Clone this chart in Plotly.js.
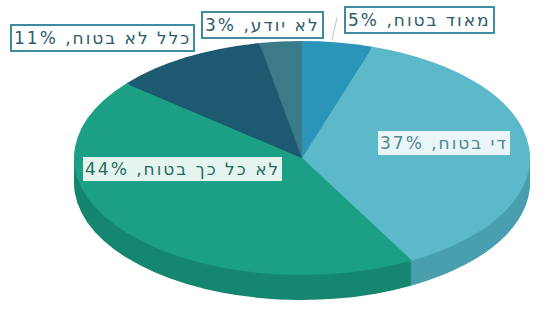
<!DOCTYPE html>
<html><head><meta charset="utf-8">
<script src="https://cdn.plot.ly/plotly-3.0.1.min.js"></script>
<style>html,body{margin:0;padding:0;background:#fff;} #chart{width:548px;height:312px;}
.annotation-text{letter-spacing:2px;}</style>
</head><body><div id="chart"></div>
<script>
const categories = ["מאוד בטוח", "די בטוח", "לא כל כך בטוח", "כלל לא בטוח", "לא יודע"];
const values = [5, 37, 44, 11, 3];
const topColors = ["#2b95b9", "#5bb9c9", "#1ba085", "#1d5a72", "#3b7b89"];
const sideColors = ["#237c99", "#4a9fae", "#15866f", "#184b5f", "#316672"];

// geometry (pixels)
const W = 548, H = 312, CX = 302, CY = 158, RX = 228, RY = 117, DEPTH = 25, STEP = 2;
function domainFor(cy) {
  return {x: [(CX - RY) / W, (CX + RY) / W], y: [1 - (cy + RY) / H, 1 - (cy - RY) / H]};
}
function pieTrace(colors, cy) {
  return {
    type: 'pie', labels: categories, values: values, sort: false,
    direction: 'clockwise', rotation: 0, textinfo: 'none', hoverinfo: 'skip',
    marker: {colors: colors, line: {width: 0}}, domain: domainFor(cy), showlegend: false
  };
}
const traces = [];
for (let d = DEPTH; d >= STEP; d -= STEP) traces.push(pieTrace(sideColors, CY + d));
traces.push(pieTrace(topColors, CY));

// label placement (pixel centres) and style
const labelPos = [[419, 20], [444, 143], [182, 169], [102, 38], [262, 25]];
const labelBoxed = [true, false, false, true, true];
const labelColor = ["#2b5c6b", "#4d8896", "#1e6e5e", "#2b5c6b", "#2b5c6b"];
const labelBg = ["#ffffff", "#eaf5f7", "#e6f4f0", "#ffffff", "#ffffff"];

const annotations = categories.map((c, i) => ({
  xref: 'paper', yref: 'paper', x: labelPos[i][0] / W, y: 1 - labelPos[i][1] / H,
  xanchor: 'center', yanchor: 'middle', showarrow: false,
  text: '\u200F' + c + ', ' + values[i] + '%\u200F',
  font: {family: 'DejaVu Sans, Verdana, sans-serif', size: 17, color: labelColor[i]},
  bgcolor: labelBg[i],
  bordercolor: labelBoxed[i] ? '#3f8ba0' : 'rgba(0,0,0,0)',
  borderwidth: labelBoxed[i] ? 2 : 0, borderpad: 2
}));

const layout = {
  width: W, height: H, margin: {l: 0, r: 0, t: 0, b: 0},
  paper_bgcolor: '#ffffff', showlegend: false, annotations: annotations,
  shapes: [{type: 'line', xref: 'paper', yref: 'paper', x0: 337 / W, y0: 1 - 18 / H, x1: 332 / W, y1: 1 - 40 / H,
            line: {color: '#b8c4c8', width: 1}}]
};
Plotly.newPlot('chart', traces, layout, {staticPlot: true}).then(gd => {
  const g = gd.querySelector('.pielayer');
  if (g) g.setAttribute('transform', `translate(${CX},0) scale(${RX / RY},1) translate(${-CX},0)`);
});
</script></body></html>
